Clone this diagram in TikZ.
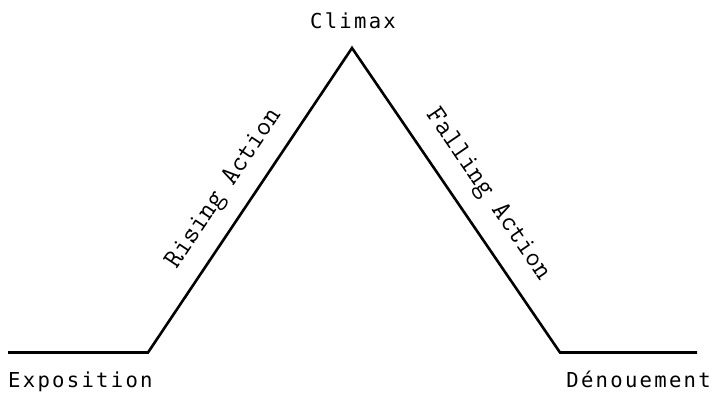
\documentclass[tikz,border=0pt]{standalone}
\usepackage{fontspec}
\newfontfamily\labfont{DejaVu Sans Mono}[LetterSpace=11]
\begin{document}
\begin{tikzpicture}[x=1pt,y=-1pt,
  arc/.style={line width=2.6pt,line join=miter},
  hlab/.style={font=\labfont\fontsize{20.6}{24}\selectfont,inner sep=0pt},
  slab/.style={font=\ttfamily\fontsize{28}{32}\selectfont,inner sep=0pt,anchor=base}]
\useasboundingbox (0,0) rectangle (712,392);
\coordinate (e) at (8,352.5);
\coordinate (r) at (148,352.5);
\coordinate (c) at (352,48);
\coordinate (f) at (560,352.5);
\coordinate (d) at (697,352.5);
\draw[arc] (e) -- (r) -- (c) -- (f) -- (d);
\node[slab,rotate=56.1] (ra) at (229,192) {Rising Action};
\node[slab,rotate=-55.6] (fa) at (483,198) {Falling Action};
\node[hlab,anchor=base] (cl) at (353,28) {Climax};
\node[hlab,anchor=base west] (ex) at (8,387) {Exposition};
\node[hlab,anchor=base east] (de) at (711,387) {Dénouement};
\end{tikzpicture}
\end{document}
